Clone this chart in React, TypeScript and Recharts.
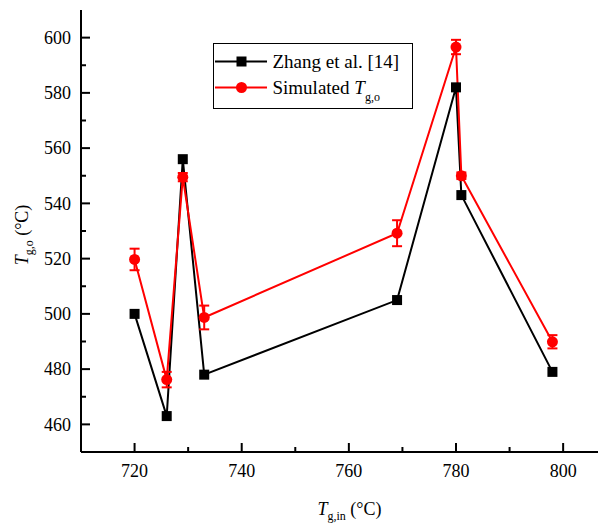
import React from "react";
import {
  ComposedChart,
  Line,
  XAxis,
  YAxis,
  ErrorBar,
  Legend,
} from "recharts";

const inletTemps = [720, 726, 729, 733, 769, 780, 781, 798];
const zhangValues = [500, 463, 556, 478, 505, 582, 543, 479];
const simulatedValues = [519.7, 476.2, 549.5, 498.7, 529.2, 596.6, 550, 489.9];
const simulatedErrors = [3.9, 2.8, 1.5, 4.3, 4.7, 2.6, 1.2, 2.4];

const xTicks = [720, 730, 740, 750, 760, 770, 780, 790, 800];
const yTicks = [460, 470, 480, 490, 500, 510, 520, 530, 540, 550, 560, 570, 580, 590, 600];
const xDomain = [710, 808];
const yDomain = [450, 610];

const data = inletTemps.map((x, i) => ({
  x,
  zhang: zhangValues[i],
  sim: simulatedValues[i],
  simErr: simulatedErrors[i],
}));

const FONT_STYLE = { fontFamily: "'Liberation Serif', 'Times New Roman', Times, serif" };

const XTick = (props: any) => {
  const { x, y, payload } = props;
  const v = payload.value;
  const major = v % 20 === 0;
  return (
    <g>
      <line x1={x} x2={x} y1={y} y2={y - (major ? 9 : 5)} stroke="#000" strokeWidth={2} />
      {major && (
        <text x={x} y={y + 25} textAnchor="middle" style={FONT_STYLE} fontSize={18} fill="#000">
          {v}
        </text>
      )}
    </g>
  );
};

const YTick = (props: any) => {
  const { x, y, payload } = props;
  const v = payload.value;
  const major = v % 20 === 0;
  return (
    <g>
      <line x1={x} x2={x + (major ? 9 : 5)} y1={y} y2={y} stroke="#000" strokeWidth={2} />
      {major && (
        <text x={x - 10} y={y + 6.3} textAnchor="end" style={FONT_STYLE} fontSize={18} fill="#000">
          {v}
        </text>
      )}
    </g>
  );
};

const SquareDot = (props: any) => {
  const { cx, cy, index } = props;
  if (cx == null || cy == null) return null;
  return <rect key={`sq-${index}`} x={cx - 5} y={cy - 5} width={10} height={10} fill="#000" />;
};

const XTitle = (props: any) => {
  const vb = props.viewBox || {};
  const cx = vb.x + vb.width / 2 + 6;
  const by = vb.y + 63;
  return (
    <text x={cx} y={by} textAnchor="middle" style={FONT_STYLE} fontSize={18} fill="#000">
      <tspan fontStyle="italic">T</tspan>
      <tspan fontSize={12} dy={5}>g,in</tspan>
      <tspan dy={-5}> (°C)</tspan>
    </text>
  );
};

const YTitle = (props: any) => {
  const vb = props.viewBox || {};
  const cy = vb.y + vb.height / 2 + 4;
  const bx = 20;
  return (
    <text
      x={bx}
      y={cy}
      transform={`rotate(-90, ${bx}, ${cy})`}
      textAnchor="middle"
      style={FONT_STYLE}
      fontSize={18}
      fill="#000"
    >
      <tspan fontStyle="italic">T</tspan>
      <tspan fontSize={12} dy={5}>g,o</tspan>
      <tspan dy={-5}> (°C)</tspan>
    </text>
  );
};

const LegendBox = () => (
  <svg width={201} height={67} style={{ display: "block" }}>
    <rect x={0.5} y={0.5} width={199} height={65} fill="#fff" stroke="#000" strokeWidth={1} />
    <line x1={2} x2={54} y1={18.5} y2={18.5} stroke="#000" strokeWidth={2} />
    <rect x={23.5} y={13.5} width={10} height={10} fill="#000" />
    <text x={59.5} y={25} style={FONT_STYLE} fontSize={19} fill="#000">
      Zhang et al. [14]
    </text>
    <line x1={2} x2={54} y1={44.5} y2={44.5} stroke="#ff0000" strokeWidth={2} />
    <circle cx={28.5} cy={44.5} r={5.5} fill="#ff0000" />
    <text x={59.5} y={51} style={FONT_STYLE} fontSize={19} fill="#000">
      Simulated <tspan fontStyle="italic">T</tspan>
      <tspan fontSize={12} dy={7}>g,o</tspan>
    </text>
  </svg>
);

export default function App() {
  return (
    <div style={{ width: 598, height: 515 }}>
      <ComposedChart
        width={598}
        height={515}
        data={data}
        margin={{ top: 2, right: 0, bottom: 0, left: 0 }}
      >
        <XAxis
          dataKey="x"
          type="number"
          domain={xDomain}
          ticks={xTicks}
          allowDataOverflow
          tickSize={0}
          tickMargin={0}
          tickLine={false}
          tick={<XTick />}
          axisLine={{ stroke: "#000", strokeWidth: 2 }}
          height={71}
          interval={0}
          label={<XTitle />}
        />
        <XAxis
          xAxisId="top"
          orientation="top"
          dataKey="x"
          type="number"
          domain={xDomain}
          allowDataOverflow
          tick={false}
          tickLine={false}
          axisLine={{ stroke: "#000", strokeWidth: 2 }}
          height={0}
        />
        <YAxis
          type="number"
          domain={yDomain}
          ticks={yTicks}
          allowDataOverflow
          tickSize={0}
          tickMargin={0}
          tickLine={false}
          tick={<YTick />}
          axisLine={{ stroke: "#000", strokeWidth: 2 }}
          width={73}
          interval={0}
          label={<YTitle />}
        />
        <Legend
          layout="vertical"
          align="center"
          verticalAlign="middle"
          content={() => <LegendBox />}
          wrapperStyle={{ left: 205, top: 35, width: 201, height: 67 }}
        />
        <Line
          dataKey="zhang"
          stroke="#000"
          strokeWidth={2}
          dot={<SquareDot />}
          activeDot={false}
          isAnimationActive={false}
        />
        <Line
          dataKey="sim"
          stroke="#ff0000"
          strokeWidth={2}
          dot={{ r: 5.5, fill: "#ff0000", stroke: "none" }}
          activeDot={false}
          isAnimationActive={false}
        >
          <ErrorBar dataKey="simErr" direction="y" width={5} stroke="#ff0000" strokeWidth={2} isAnimationActive={false} />
        </Line>
      </ComposedChart>
    </div>
  );
}
